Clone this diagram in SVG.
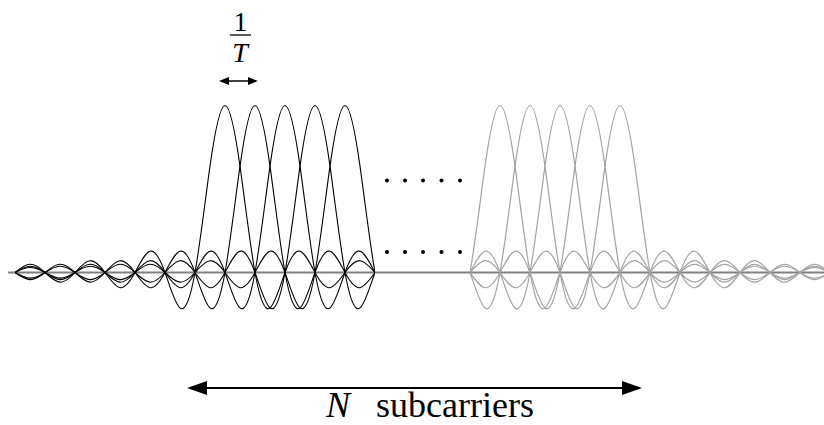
<svg xmlns="http://www.w3.org/2000/svg" xmlns:xlink="http://www.w3.org/1999/xlink" width="824" height="425" viewBox="0 0 824 425">
<style>
.blk{fill:none;stroke:#000;stroke-width:1.1}
.gry{fill:none;stroke:#a3a3a3;stroke-width:1.2}
.axis{stroke:#808080;stroke-width:2}
.dot{fill:#000}
.t{font-family:"Liberation Serif","Times New Roman",serif;fill:#000}
.it{font-style:italic}
.arr{stroke:#000;fill:none}
</style>
<defs>
<path id="sinc" d="M-330,0 C-325,-2.53 -320,-4.98 -315,-5.06 C-310,-5.14 -305,-2.78 -300,0 C-295,2.78 -290,5.50 -285,5.60 C-280,5.69 -275,3.09 -270,0 C-265,-3.09 -260,-6.13 -255,-6.25 C-250,-6.38 -245,-3.48 -240,0 C-235,3.48 -230,6.93 -225,7.09 C-220,7.25 -215,3.98 -210,0 C-205,-3.98 -200,-7.97 -195,-8.18 C-190,-8.39 -185,-4.64 -180,0 C-175,4.64 -170,9.37 -165,9.67 C-160,9.96 -155,5.57 -150,0 C-145,-5.57 -140,-11.38 -135,-11.81 C-130,-12.25 -125,-6.96 -120,0 C-115,6.96 -110,14.46 -105,15.19 C-100,15.91 -95,9.28 -90,0 C-85,-9.28 -80,-19.85 -75,-21.26 C-70,-22.68 -65,-13.92 -60,0 C-55,13.92 -50,31.50 -45,35.44 C-40,39.38 -35,27.83 -30,0 C-25,-27.83 -20,-70.87 -15,-106.31 C-10,-141.75 -5,-167 0,-167 C5,-167 10,-141.75 15,-106.31 C20,-70.87 25,-27.83 30,0 C35,27.83 40,39.38 45,35.44 C50,31.50 55,13.92 60,0 C65,-13.92 70,-22.68 75,-21.26 C80,-19.85 85,-9.28 90,0 C95,9.28 100,15.91 105,15.19 C110,14.46 115,6.96 120,0 C125,-6.96 130,-12.25 135,-11.81 C140,-11.38 145,-5.57 150,0 C155,5.57 160,9.96 165,9.67 C170,9.37 175,4.64 180,0 C185,-4.64 190,-8.39 195,-8.18 C200,-7.97 205,-3.98 210,0 C215,3.98 220,7.25 225,7.09 C230,6.93 235,3.48 240,0 C245,-3.48 250,-6.38 255,-6.25 C260,-6.13 265,-3.09 270,0 C275,3.09 280,5.69 285,5.60 C290,5.50 295,2.78 300,0 C305,-2.78 310,-5.14 315,-5.06 C320,-4.98 325,-2.53 330,0"/>
<clipPath id="clipB"><rect x="15" y="0" width="360" height="425"/></clipPath>
<clipPath id="clipG"><rect x="470" y="0" width="360" height="425"/></clipPath>
<marker id="bigHead" viewBox="0 0 20 14" refX="15" refY="7" markerWidth="20" markerHeight="14" markerUnits="userSpaceOnUse" orient="auto-start-reverse">
<path d="M0,0 L20,7 L0,14 z" fill="#000"/>
</marker>
<marker id="smallHead" viewBox="0 0 10 8" refX="8" refY="4" markerWidth="10" markerHeight="8" markerUnits="userSpaceOnUse" orient="auto-start-reverse">
<path d="M0,0 L10,4 L0,8 z" fill="#000"/>
</marker>
</defs>

<g id="axis">
<line class="axis" x1="8" y1="272.5" x2="824" y2="272.5"/>
</g>

<g id="subcarriers-black" clip-path="url(#clipB)">
<use xlink:href="#sinc" href="#sinc" class="blk" transform="translate(225,272.5)"/>
<use xlink:href="#sinc" href="#sinc" class="blk" transform="translate(255,272.5)"/>
<use xlink:href="#sinc" href="#sinc" class="blk" transform="translate(285,272.5)"/>
<use xlink:href="#sinc" href="#sinc" class="blk" transform="translate(315,272.5)"/>
<use xlink:href="#sinc" href="#sinc" class="blk" transform="translate(345,272.5)"/>
</g>

<g id="subcarriers-gray" clip-path="url(#clipG)">
<use xlink:href="#sinc" href="#sinc" class="gry" transform="translate(500,272.5)"/>
<use xlink:href="#sinc" href="#sinc" class="gry" transform="translate(530,272.5)"/>
<use xlink:href="#sinc" href="#sinc" class="gry" transform="translate(560,272.5)"/>
<use xlink:href="#sinc" href="#sinc" class="gry" transform="translate(590,272.5)"/>
<use xlink:href="#sinc" href="#sinc" class="gry" transform="translate(620,272.5)"/>
</g>

<g id="ellipsis">
<circle class="dot" cx="387" cy="180.5" r="2"/>
<circle class="dot" cx="405" cy="180.5" r="2"/>
<circle class="dot" cx="423" cy="180.5" r="2"/>
<circle class="dot" cx="441.5" cy="180.5" r="2"/>
<circle class="dot" cx="460" cy="180.5" r="2"/>
<circle class="dot" cx="387" cy="252" r="2"/>
<circle class="dot" cx="405" cy="252" r="2"/>
<circle class="dot" cx="423" cy="252" r="2"/>
<circle class="dot" cx="441.5" cy="252" r="2"/>
<circle class="dot" cx="460" cy="252" r="2"/>
</g>

<g id="spacing-label">
<text class="t" x="240.5" y="31" font-size="28" text-anchor="middle">1</text>
<line x1="230" y1="35" x2="251" y2="35" stroke="#000" stroke-width="1.3"/>
<text class="t it" x="240" y="62" font-size="28" text-anchor="middle">T</text>
</g>

<g id="connectors">
<line class="arr" x1="221" y1="81" x2="256" y2="81" stroke-width="1.5" marker-start="url(#smallHead)" marker-end="url(#smallHead)"/>
<line class="arr" x1="192" y1="388" x2="637" y2="388" stroke-width="2" marker-start="url(#bigHead)" marker-end="url(#bigHead)"/>
</g>

<g id="n-label">
<text class="t it" x="326" y="417" font-size="36">N</text>
<text class="t" x="376" y="417" font-size="36">subcarriers</text>
</g>
</svg>
